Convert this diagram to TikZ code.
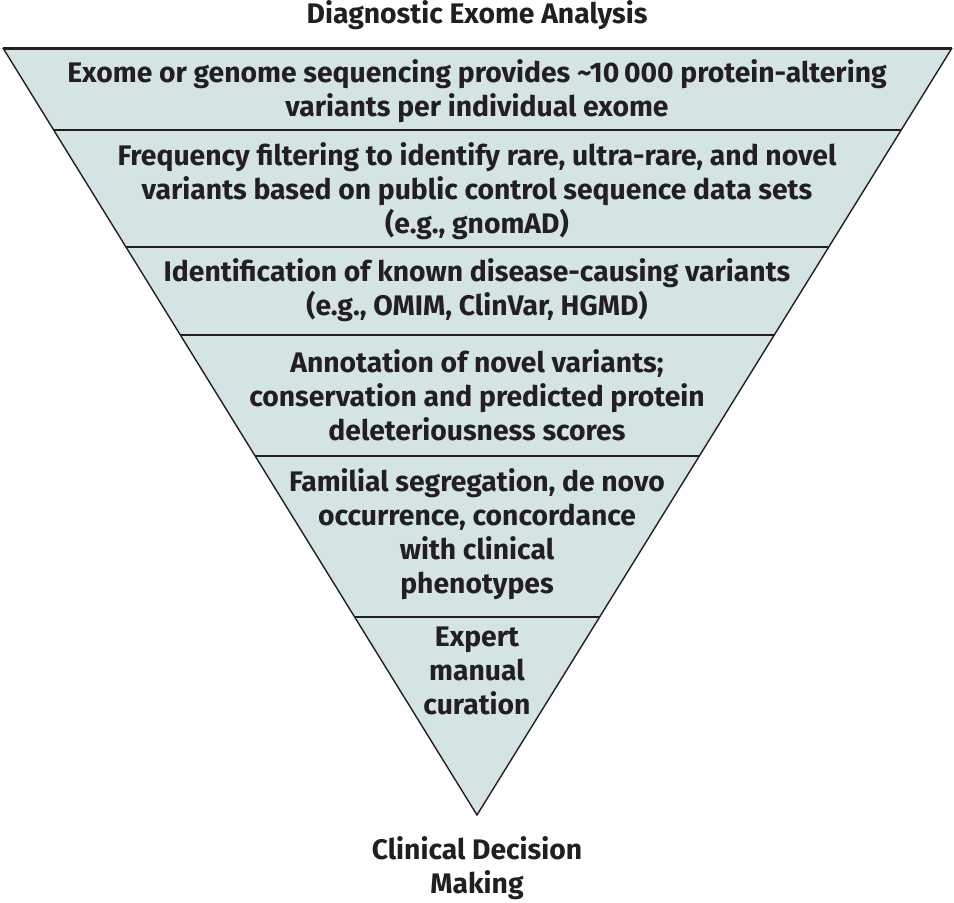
\documentclass[tikz,border=0pt]{standalone}
\usepackage{fontspec}
\setmainfont{Fira Sans}
\definecolor{tri}{RGB}{212,228,228}
\definecolor{ink}{RGB}{35,31,32}
\begin{document}
\begin{tikzpicture}[x=1pt,y=-1pt,
  lbl/.style={align=center,text=ink,font=\fontsize{28.3}{34}\selectfont\bfseries,inner sep=0pt},
  sep/.style={draw=ink,line width=1.2pt}]
\useasboundingbox (0,0) rectangle (954,903);
\coordinate (tl) at (3,48);
\coordinate (tr) at (952,48);
\coordinate (ap) at (477,815);
\fill[tri] (tl) -- (tr) -- (ap) -- cycle;
% separators
\foreach \y in {130,247,335,456,617}{
  \pgfmathsetmacro{\xl}{3+(\y-48)*0.61799}
  \pgfmathsetmacro{\xr}{952-(\y-48)*0.61930}
  \draw[sep] (\xl,\y) -- (\xr,\y);
}
\draw[ink,line width=1.4pt,line join=miter] (tr) -- (ap) -- (tl);
\draw[ink,line width=3pt] (tl) -- (tr);
\node[lbl] (title) at (477,15) {Diagnostic Exome Analysis};
\node[lbl] (b1) at (477,91) {Exome or genome sequencing provides \textasciitilde10\,000 protein-altering\\variants per individual exome};
\node[lbl] (b2) at (477,191) {Frequency filtering to identify rare, ultra-rare, and novel\\variants based on public control sequence data sets\\(e.g., gnomAD)};
\node[lbl] (b3) at (477,290) {Identification of known disease-causing variants\\(e.g., OMIM, ClinVar, HGMD)};
\node[lbl] (b4) at (477,395) {Annotation of novel variants;\\conservation and predicted protein\\deleteriousness scores};
\node[lbl] (b5) at (477,534) {Familial segregation, de novo\\occurrence, concordance\\with clinical\\phenotypes};
\node[lbl] (b6) at (477,671) {Expert\\manual\\curation};
\node[lbl] (out) at (477,868) {Clinical Decision\\Making};
\end{tikzpicture}
\end{document}
